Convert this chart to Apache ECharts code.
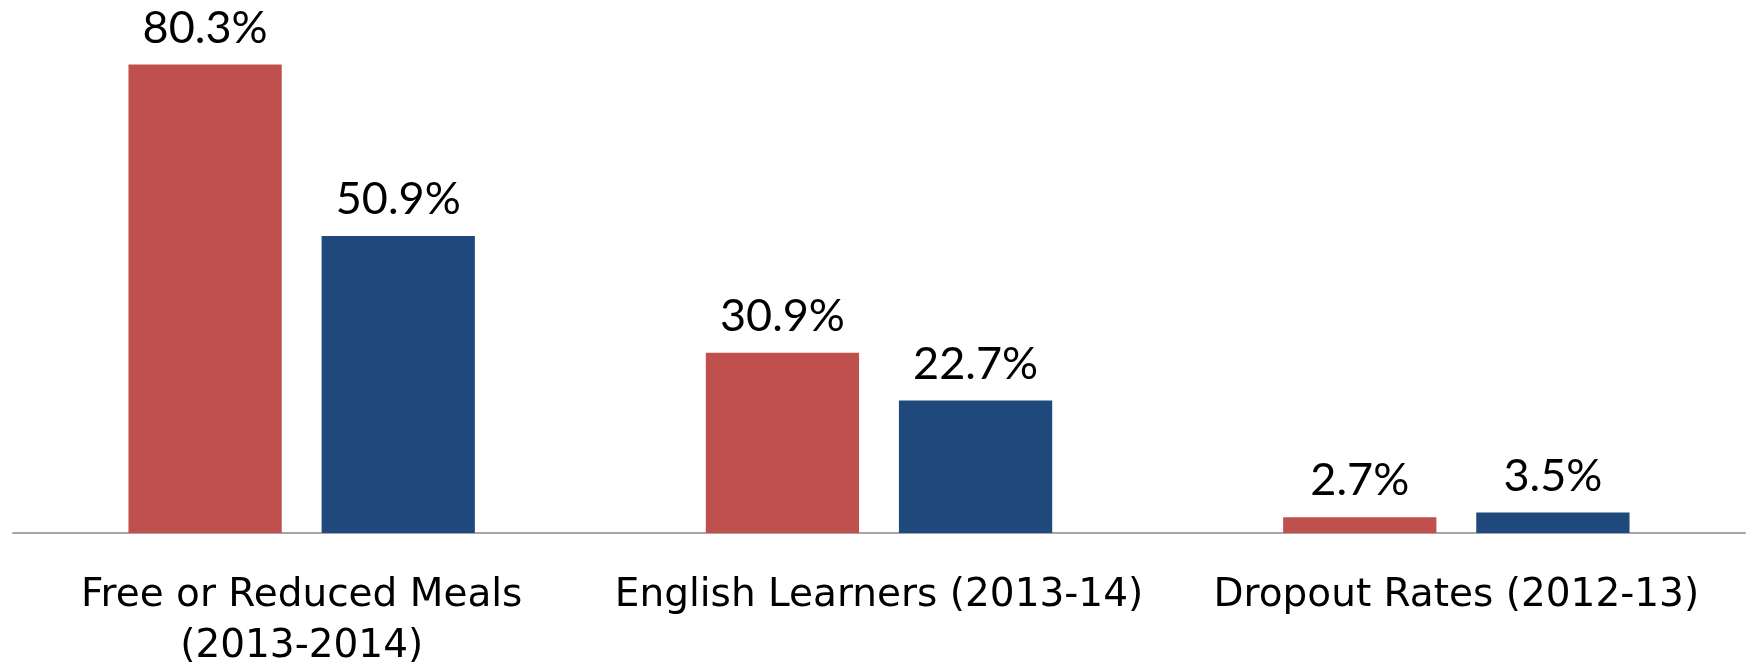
<!DOCTYPE html>
<html>
<head>
<meta charset="utf-8">
<script src="https://cdn.jsdelivr.net/npm/echarts@6/dist/echarts.min.js"></script>
<style>html,body{margin:0;padding:0;background:#fff}#c{width:1748px;height:662px}</style>
</head>
<body>
<div id="c"></div>
<script>
const categories = ['Free or Reduced Meals\n(2013-2014)', 'English Learners (2013-14)', 'Dropout Rates (2012-13)'];
const seriesA = [80.3, 30.9, 2.7];
const seriesB = [50.9, 22.7, 3.5];

const chart = echarts.init(document.getElementById('c'));
const labelCfg = {
  show: true, position: 'top', distance: 14,
  formatter: p => p.value.toFixed(1) + '%',
  color: '#000', fontSize: 45, fontFamily: 'Lato'
};
chart.setOption({
  animation: false,
  grid: { left: 13, right: 3, top: 8, bottom: 129, containLabel: false, outerBoundsMode: 'none' },
  xAxis: {
    type: 'category', data: categories,
    axisLine: { lineStyle: { color: '#a6a6a6', width: 2 } },
    axisTick: { show: false },
    axisLabel: { color: '#000', fontSize: 39, fontFamily: 'DejaVu Sans', margin: 37, lineHeight: 51, interval: 0 }
  },
  yAxis: { type: 'value', min: 0, max: 90, show: false, splitLine: { show: false } },
  series: [
    { type: 'bar', data: seriesA, itemStyle: { color: '#c0504d' }, barGap: '26%', barCategoryGap: '40%', label: labelCfg },
    { type: 'bar', data: seriesB, itemStyle: { color: '#1f497d' }, label: labelCfg }
  ]
});
</script>
</body>
</html>
